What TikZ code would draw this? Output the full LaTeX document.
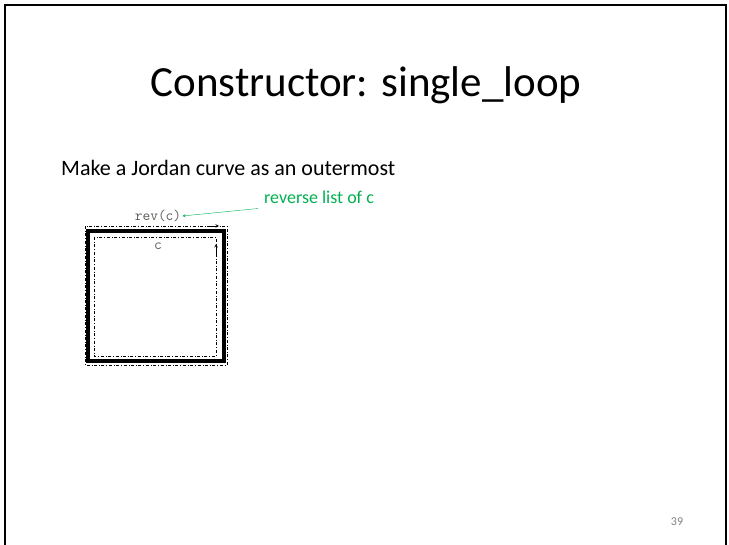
\documentclass[tikz,border=0pt]{standalone}
\usepackage{fontspec}
\setmainfont{Carlito}
\usepackage{tikz}
\usetikzlibrary{arrows, positioning, calc}
\definecolor{notegreen}{RGB}{0,176,80}
\definecolor{codegray}{RGB}{95,90,85}
\tikzstyle{title} = [font=\fontsize{43}{47}\selectfont, inner sep=0pt]
\tikzstyle{body} = [font=\fontsize{22}{26}\selectfont, inner sep=0pt, anchor=west]
\tikzstyle{code} = [font=\ttfamily\fontsize{15}{16}\selectfont, text=codegray, inner sep=1pt]
\tikzstyle{note} = [font=\fontsize{18}{20}\selectfont, text=notegreen, inner sep=1pt, anchor=west]
\tikzstyle{loop} = [dash dot, line width=0.8pt]
\tikzstyle{tip} = [line width=0.6pt,->,>=stealth]

\begin{document}
\begin{tikzpicture}[x=1pt, y=-1pt]
            \useasboundingbox (0,0) rectangle (729,545);
            % slide frame
            \draw [line width=2.5pt] (5,548) -- (5,5) -- (726,5) -- (726,548);

            % Headings
            \node (head) [title] at (366,85) {Constructor: single\_loop};
            \node (intro) [body] at (61,168) {Make a Jordan curve as an outermost};

            % Loops
            \draw [loop] (85,226) rectangle (227,365);
            \draw [line width=3.5pt] (88,231) rectangle (224,361);
            \draw [loop] (94,237) rectangle (216,356);
            \draw [tip] (207,226) -- (219,226);
            \draw [tip] (216,254) -- (216,244);

            % Labels
            \node (rev) [code] at (158,216) {rev(c)};
            \node (c) [code] at (158,246) {c};
            \node (revnote) [note] at (263,197) {reverse list of c};
            \draw [notegreen, ->, >=stealth] ($(revnote.south west)+(-5,4)$) -- (rev.east);

            % page number
            \node (page) [font=\fontsize{12}{14}\selectfont, text=gray] at (677,522) {39};
        \end{tikzpicture}
\end{document}
